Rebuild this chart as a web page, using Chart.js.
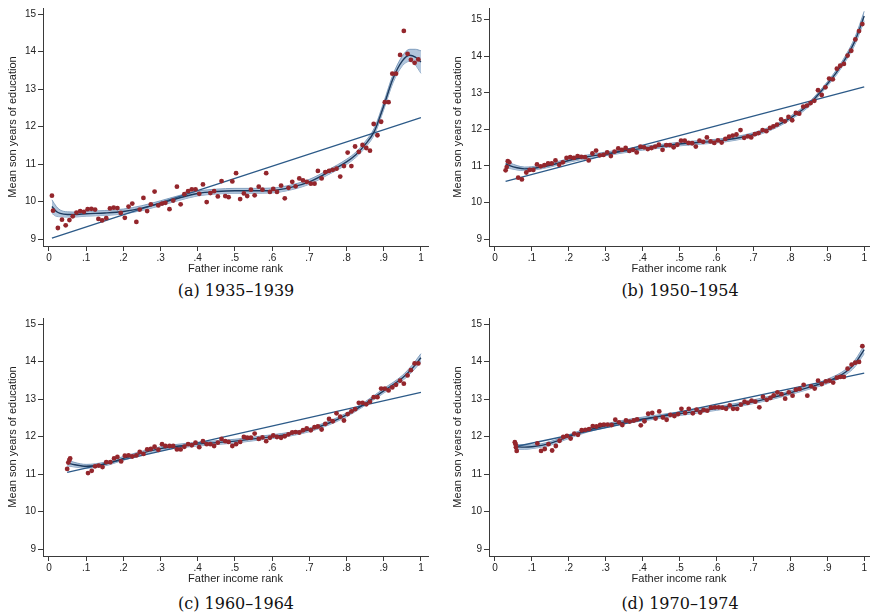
<!DOCTYPE html>
<html>
<head>
<meta charset="utf-8">
<script src="https://cdn.jsdelivr.net/npm/chart.js@4.4.0/dist/chart.umd.min.js"></script>
<style>
body { margin: 0; background: #fff; width: 873px; height: 615px; position: relative; overflow: hidden; }
canvas { position: absolute; }
.cap { position: absolute; width: 300px; text-align: center; font-family: 'DejaVu Serif', 'Liberation Serif', serif; font-size: 16px; line-height: 18px; color: #111; }
</style>
</head>
<body>
<canvas id="pa" width="436" height="280" style="left:0;top:0"></canvas>
<canvas id="pb" width="433" height="280" style="left:440px;top:0"></canvas>
<canvas id="pc" width="436" height="280" style="left:0;top:310px"></canvas>
<canvas id="pd" width="433" height="280" style="left:440px;top:310px"></canvas>
<div class="cap" style="left:86px;top:282px">(a) 1935–1939</div>
<div class="cap" style="left:530px;top:282px">(b) 1950–1954</div>
<div class="cap" style="left:86px;top:595px">(c) 1960–1964</div>
<div class="cap" style="left:530px;top:595px">(d) 1970–1974</div>
<script>
'use strict';

var xTicks = [0, 0.1, 0.2, 0.3, 0.4, 0.5, 0.6, 0.7, 0.8, 0.9, 1];
var xTickLabels = ['0', '.1', '.2', '.3', '.4', '.5', '.6', '.7', '.8', '.9', '1'];
var yTicks = [9, 10, 11, 12, 13, 14, 15];
var yTickLabels = ['9', '10', '11', '12', '13', '14', '15'];
var xTitle = 'Father income rank';
var yTitle = 'Mean son years of education';

// (a) 1935-1939
var rankA = [0.008,0.011,0.024,0.035,0.045,0.055,0.064,0.074,0.084,0.094,0.104,0.114,0.124,0.133,0.143,0.154,0.164,0.174,0.184,0.193,0.204,0.214,0.224,0.235,0.244,0.254,0.264,0.274,0.284,0.294,0.304,0.313,0.324,0.334,0.344,0.354,0.364,0.374,0.384,0.394,0.404,0.414,0.424,0.434,0.444,0.454,0.464,0.474,0.483,0.493,0.503,0.514,0.524,0.533,0.543,0.553,0.564,0.574,0.584,0.594,0.603,0.613,0.624,0.634,0.644,0.654,0.663,0.673,0.683,0.693,0.704,0.714,0.723,0.733,0.743,0.753,0.763,0.773,0.783,0.793,0.803,0.813,0.823,0.833,0.843,0.853,0.863,0.873,0.883,0.893,0.903,0.913,0.923,0.933,0.944,0.954,0.964,0.973,0.983,0.993];
var eduA = [10.16,9.76,9.30,9.52,9.37,9.51,9.61,9.71,9.75,9.73,9.80,9.81,9.79,9.54,9.50,9.56,9.82,9.84,9.83,9.70,9.57,9.87,9.95,9.46,9.79,10.10,9.75,9.93,10.27,9.90,9.95,9.97,9.80,10.03,10.40,9.93,10.20,10.28,10.33,10.33,10.21,10.46,9.99,10.23,10.28,10.14,10.55,10.15,10.12,10.54,10.76,10.07,10.22,10.15,10.32,10.17,10.40,10.32,10.76,10.26,10.34,10.26,10.43,10.09,10.37,10.53,10.41,10.62,10.57,10.53,10.48,10.48,10.82,10.62,10.79,10.82,10.85,10.88,10.67,10.95,11.31,10.95,11.47,11.33,11.51,11.43,11.36,12.07,11.77,12.13,12.65,12.65,13.41,13.41,13.91,14.55,13.94,13.78,13.70,13.79];
var fitXA = [0.008,0.02,0.03,0.05,0.075,0.1,0.15,0.2,0.25,0.3,0.35,0.4,0.45,0.5,0.55,0.6,0.65,0.7,0.75,0.8,0.825,0.85,0.875,0.9,0.925,0.95,0.97,0.985,1.0];
var fitA = [9.87,9.74,9.69,9.66,9.66,9.68,9.70,9.74,9.83,9.96,10.10,10.22,10.27,10.29,10.29,10.30,10.38,10.53,10.78,11.06,11.25,11.52,11.88,12.55,13.28,13.75,13.90,13.85,13.72];
var seA = [0.18,0.13,0.09,0.07,0.065,0.065,0.065,0.065,0.065,0.065,0.065,0.065,0.065,0.065,0.065,0.065,0.065,0.065,0.065,0.07,0.07,0.08,0.09,0.10,0.11,0.13,0.16,0.21,0.30];
var linXA = [0.008, 1.0];
var linYA = [9.03, 12.24];

// (b) 1950-1954
var rankB = [0.029,0.032,0.035,0.039,0.063,0.073,0.085,0.094,0.104,0.114,0.124,0.134,0.144,0.154,0.164,0.174,0.184,0.194,0.204,0.214,0.224,0.234,0.244,0.254,0.264,0.274,0.284,0.294,0.304,0.314,0.324,0.334,0.344,0.354,0.364,0.374,0.384,0.394,0.404,0.414,0.424,0.434,0.444,0.454,0.464,0.474,0.484,0.494,0.504,0.514,0.524,0.534,0.544,0.554,0.564,0.574,0.584,0.594,0.604,0.614,0.624,0.634,0.644,0.654,0.665,0.675,0.685,0.694,0.704,0.714,0.725,0.735,0.745,0.754,0.764,0.775,0.785,0.795,0.805,0.815,0.824,0.835,0.845,0.855,0.865,0.875,0.885,0.895,0.905,0.915,0.926,0.935,0.945,0.955,0.965,0.976,0.986,0.995];
var eduB = [10.88,10.97,11.13,11.10,10.68,10.63,10.82,10.89,10.89,11.04,10.99,11.02,11.07,11.07,11.15,11.03,11.10,11.22,11.24,11.22,11.27,11.25,11.24,11.15,11.34,11.42,11.29,11.30,11.37,11.27,11.39,11.48,11.44,11.49,11.41,11.44,11.37,11.53,11.51,11.46,11.49,11.53,11.58,11.44,11.57,11.57,11.51,11.58,11.69,11.69,11.63,11.62,11.53,11.69,11.66,11.78,11.67,11.63,11.70,11.64,11.74,11.80,11.83,11.86,11.98,11.77,11.81,11.78,11.87,11.90,11.98,11.95,12.04,12.08,12.13,12.27,12.22,12.34,12.25,12.45,12.43,12.62,12.65,12.72,12.78,13.07,12.94,13.15,13.39,13.37,13.66,13.74,13.79,14.02,14.15,14.46,14.69,14.88];
var fitXB = [0.029,0.04,0.06,0.08,0.1,0.15,0.2,0.25,0.3,0.35,0.4,0.45,0.5,0.55,0.6,0.65,0.7,0.75,0.8,0.85,0.9,0.925,0.95,0.975,1.0];
var fitB = [11.06,11.01,10.95,10.92,10.93,11.02,11.15,11.25,11.33,11.41,11.48,11.54,11.60,11.64,11.68,11.75,11.86,12.04,12.31,12.68,13.24,13.56,13.95,14.42,15.10];
var seB = [0.10,0.08,0.06,0.05,0.05,0.05,0.05,0.05,0.05,0.05,0.05,0.05,0.05,0.05,0.05,0.05,0.05,0.05,0.05,0.06,0.06,0.07,0.08,0.10,0.13];
var linXB = [0.029, 1.0];
var linYB = [10.58, 13.16];

// (c) 1960-1964
var rankC = [0.049,0.052,0.055,0.057,0.105,0.115,0.124,0.134,0.144,0.154,0.165,0.175,0.184,0.194,0.204,0.214,0.224,0.235,0.244,0.254,0.264,0.274,0.284,0.294,0.304,0.313,0.324,0.334,0.344,0.354,0.364,0.374,0.384,0.394,0.404,0.414,0.424,0.434,0.444,0.454,0.464,0.474,0.483,0.493,0.503,0.514,0.524,0.533,0.543,0.553,0.564,0.574,0.584,0.594,0.603,0.613,0.624,0.634,0.644,0.654,0.663,0.673,0.683,0.693,0.704,0.714,0.723,0.733,0.743,0.753,0.763,0.773,0.783,0.793,0.803,0.813,0.823,0.833,0.843,0.853,0.863,0.873,0.883,0.893,0.903,0.913,0.923,0.933,0.944,0.954,0.964,0.973,0.983,0.993];
var eduC = [11.14,11.31,11.38,11.42,11.03,11.09,11.21,11.23,11.19,11.32,11.32,11.42,11.46,11.34,11.49,11.50,11.47,11.50,11.59,11.54,11.66,11.67,11.73,11.65,11.80,11.75,11.75,11.75,11.66,11.66,11.73,11.80,11.77,11.84,11.72,11.88,11.80,11.80,11.75,11.84,11.94,11.88,11.86,11.75,11.80,11.86,11.99,11.97,11.97,12.08,11.94,11.98,11.88,11.97,12.03,11.99,11.97,12.01,12.06,12.11,12.12,12.11,12.17,12.22,12.17,12.25,12.27,12.19,12.34,12.47,12.41,12.62,12.53,12.43,12.60,12.67,12.73,12.90,12.90,12.86,12.93,13.05,13.05,13.28,13.28,13.23,13.31,13.38,13.49,13.41,13.63,13.77,13.95,13.95];
var fitXC = [0.049,0.07,0.1,0.15,0.2,0.25,0.3,0.35,0.4,0.45,0.5,0.55,0.6,0.65,0.7,0.75,0.8,0.85,0.9,0.95,0.975,1.0];
var fitC = [11.30,11.25,11.21,11.27,11.42,11.56,11.68,11.75,11.80,11.84,11.88,11.94,12.00,12.07,12.18,12.35,12.58,12.88,13.22,13.56,13.80,14.10];
var seC = [0.08,0.06,0.05,0.05,0.05,0.05,0.05,0.05,0.05,0.05,0.05,0.05,0.05,0.05,0.05,0.05,0.05,0.05,0.06,0.07,0.09,0.11];
var linXC = [0.049, 1.0];
var linYC = [11.05, 13.18];

// (d) 1970-1974
var rankD = [0.054,0.056,0.057,0.059,0.115,0.125,0.135,0.145,0.155,0.165,0.175,0.185,0.195,0.205,0.215,0.225,0.235,0.245,0.255,0.265,0.275,0.285,0.295,0.305,0.316,0.326,0.336,0.345,0.355,0.365,0.376,0.385,0.395,0.405,0.415,0.426,0.435,0.445,0.455,0.465,0.475,0.486,0.496,0.505,0.515,0.525,0.536,0.546,0.556,0.565,0.575,0.585,0.596,0.606,0.616,0.626,0.636,0.645,0.656,0.666,0.676,0.685,0.695,0.705,0.716,0.726,0.736,0.746,0.755,0.765,0.776,0.786,0.796,0.806,0.815,0.825,0.836,0.846,0.856,0.866,0.875,0.885,0.896,0.906,0.916,0.926,0.935,0.945,0.955,0.966,0.976,0.986,0.995];
var eduD = [11.85,11.80,11.72,11.62,11.82,11.62,11.67,11.80,11.63,11.75,11.89,11.99,12.02,11.95,12.08,12.05,12.17,12.18,12.20,12.28,12.27,12.31,12.32,12.32,12.31,12.45,12.38,12.31,12.43,12.40,12.43,12.46,12.30,12.41,12.61,12.63,12.48,12.67,12.51,12.45,12.58,12.55,12.60,12.74,12.63,12.74,12.62,12.72,12.64,12.71,12.69,12.77,12.78,12.78,12.77,12.74,12.83,12.74,12.74,12.85,12.93,12.90,12.96,12.93,12.78,13.06,12.98,13.03,13.10,13.18,13.13,13.01,13.18,13.09,13.25,13.27,13.38,13.09,13.34,13.28,13.49,13.40,13.47,13.49,13.44,13.57,13.59,13.59,13.81,13.92,13.97,13.99,14.41];
var fitXD = [0.054,0.08,0.1,0.15,0.2,0.25,0.3,0.35,0.4,0.45,0.5,0.55,0.6,0.65,0.7,0.75,0.8,0.85,0.9,0.95,0.975,1.0];
var fitD = [11.73,11.72,11.73,11.82,12.00,12.17,12.29,12.39,12.47,12.54,12.61,12.68,12.75,12.83,12.93,13.04,13.17,13.31,13.47,13.72,13.95,14.32];
var seD = [0.07,0.06,0.05,0.05,0.05,0.05,0.05,0.05,0.05,0.05,0.05,0.05,0.05,0.05,0.05,0.05,0.05,0.05,0.06,0.07,0.09,0.11];
var linXD = [0.054, 1.0];
var linYD = [11.73, 13.69];

var axisColor = '#3a3a3a';
var textColor = '#222';
var sans = "'Liberation Sans', Arial, sans-serif";

function pts(xs, ys) {
    return xs.map(function (x, i) { return { x: x, y: ys[i] }; });
}

// upper / lower edge of the confidence band
function band(fit, se, sign) {
    return fit.map(function (v, i) { return v + sign * se[i]; });
}

function makePanel(id, p) {
    var lineBase = { type: 'line', pointRadius: 0, fill: false, cubicInterpolationMode: 'monotone' };
    new Chart(document.getElementById(id), {
        type: 'scatter',
        data: {
            datasets: [
                Object.assign({}, lineBase, {
                    data: pts(p.fitX, band(p.fit, p.se, -1)),
                    borderColor: '#6a8db2', borderWidth: 0.8, order: 6
                }),
                Object.assign({}, lineBase, {
                    data: pts(p.fitX, band(p.fit, p.se, 1)),
                    borderColor: '#6a8db2', borderWidth: 0.8,
                    backgroundColor: 'rgba(170,192,216,0.9)', fill: '-1', order: 5
                }),
                Object.assign({}, lineBase, {
                    data: pts(p.linX, p.linY),
                    borderColor: '#2c5a88', borderWidth: 1.3, order: 4
                }),
                Object.assign({}, lineBase, {
                    data: pts(p.fitX, p.fit),
                    borderColor: '#1c3a5e', borderWidth: 1.4, order: 3
                }),
                {
                    data: pts(p.rank, p.edu),
                    backgroundColor: '#94262c', borderWidth: 0,
                    pointRadius: 2.4, order: 1
                }
            ]
        },
        options: {
            responsive: false,
            animation: false,
            devicePixelRatio: 1,
            layout: { padding: { top: 5, right: p.padRight, left: 0, bottom: 0 } },
            plugins: { legend: { display: false }, tooltip: { enabled: false } },
            scales: {
                x: {
                    type: 'linear', min: p.xMin, max: p.xMax,
                    afterBuildTicks: function (s) { s.ticks = xTicks.map(function (v) { return { value: v }; }); },
                    afterFit: function (s) { s.height = 34; },
                    ticks: {
                        autoSkip: false, maxRotation: 0, padding: 1, color: textColor,
                        font: { family: sans, size: 10 },
                        callback: function (v, i) { return xTickLabels[i]; }
                    },
                    grid: { drawOnChartArea: false, tickLength: 5, color: axisColor },
                    border: { color: axisColor, width: 1 },
                    title: {
                        display: true, text: xTitle, color: textColor,
                        font: { family: sans, size: 11 }, padding: { top: 0, bottom: 4 }
                    }
                },
                y: {
                    type: 'linear', min: p.yMin, max: p.yMax,
                    afterBuildTicks: function (s) { s.ticks = yTicks.map(function (v) { return { value: v }; }); },
                    afterFit: function (s) { s.width = p.yWidth; },
                    ticks: {
                        autoSkip: false, padding: 2, color: textColor,
                        font: { family: sans, size: 10 },
                        callback: function (v, i) { return yTickLabels[i]; }
                    },
                    grid: { drawOnChartArea: false, tickLength: 5, color: axisColor },
                    border: { color: axisColor, width: 1 },
                    title: {
                        display: true, text: yTitle, color: textColor,
                        font: { family: sans, size: 11 }, padding: { top: p.yTitlePad, bottom: 0 }
                    }
                }
            }
        }
    });
}

makePanel('pa', { rank: rankA, edu: eduA, fitX: fitXA, fit: fitA, se: seA, linX: linXA, linY: linYA,
    xMin: -0.016, xMax: 1.019, yMin: 8.82, yMax: 15.16, yWidth: 43, padRight: 8, yTitlePad: 6.4 });
makePanel('pb', { rank: rankB, edu: eduB, fitX: fitXB, fit: fitB, se: seB, linX: linXB, linY: linYB,
    xMin: -0.016, xMax: 1.013, yMin: 8.81, yMax: 15.32, yWidth: 49, padRight: 1, yTitlePad: 11.4 });
makePanel('pc', { rank: rankC, edu: eduC, fitX: fitXC, fit: fitC, se: seC, linX: linXC, linY: linYC,
    xMin: -0.016, xMax: 1.019, yMin: 8.82, yMax: 15.16, yWidth: 43, padRight: 8, yTitlePad: 6.4 });
makePanel('pd', { rank: rankD, edu: eduD, fitX: fitXD, fit: fitD, se: seD, linX: linXD, linY: linYD,
    xMin: -0.016, xMax: 1.013, yMin: 8.82, yMax: 15.16, yWidth: 49, padRight: 1, yTitlePad: 11.4 });
</script>
</body>
</html>
